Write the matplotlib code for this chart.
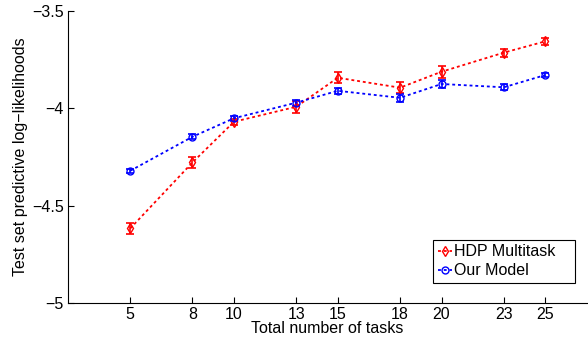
import matplotlib
matplotlib.use("Agg")
import matplotlib.pyplot as plt

# ---------------- data ----------------
tasks = [5, 8, 10, 13, 15, 18, 20, 23, 25]
hdp_mean = [-4.617, -4.278, -4.069, -3.992, -3.843, -3.894, -3.812, -3.714, -3.656]
hdp_err = [0.030, 0.028, 0.015, 0.030, 0.028, 0.028, 0.030, 0.020, 0.018]
ours_mean = [-4.321, -4.146, -4.051, -3.971, -3.910, -3.946, -3.875, -3.892, -3.829]
ours_err = [0.010, 0.012, 0.012, 0.015, 0.015, 0.020, 0.022, 0.015, 0.012]
ytick_vals = [-5, -4.5, -4, -3.5]
ytick_labels = ["\u22125", "\u22124.5", "\u22124", "\u22123.5"]

plt.rcParams['font.family'] = ['Liberation Sans', 'DejaVu Sans']
FS = 11.5

fig = plt.figure(figsize=(5.88, 3.38), dpi=100)
ax = fig.add_axes([0.1156, 0.1036, 0.8824, 0.8639])

dots = (0, (1.6, 1.6))
# error bars first, then the dotted lines with markers (these go in the legend)
ax.errorbar(tasks, hdp_mean, yerr=hdp_err, fmt="none", ecolor="red",
            capsize=3, elinewidth=1.2, capthick=1.2)
ax.errorbar(tasks, ours_mean, yerr=ours_err, fmt="none", ecolor="blue",
            capsize=3, elinewidth=1.2, capthick=1.2)
ax.plot(tasks, hdp_mean, color="red", linestyle=dots, linewidth=1.3,
        marker="d", markersize=5.5, markerfacecolor="none", markeredgewidth=1.0,
        label="HDP Multitask")
ax.plot(tasks, ours_mean, color="blue", linestyle=dots, linewidth=1.3,
        marker="o", markersize=5, markerfacecolor="none", markeredgewidth=1.0,
        label="Our Model")

ax.set_xlim(2, 27)
ax.set_ylim(-5, -3.5)
ax.set_xticks(tasks)
ax.set_yticks(ytick_vals)
ax.set_yticklabels(ytick_labels)
ax.tick_params(direction="in", length=4, width=0.8, labelsize=FS, pad=3)

for side in ["top", "right"]:
    ax.spines[side].set_visible(False)
for side in ["left", "bottom"]:
    ax.spines[side].set_linewidth(0.8)

ax.set_xlabel("Total number of tasks", fontsize=FS, labelpad=-0.5)
ax.set_ylabel("Test set predictive log\u2212likelihoods", fontsize=FS, labelpad=3)

# MATLAB-like legend box, wider than its text
leg = ax.legend(loc="lower left", bbox_to_anchor=(0.703, 0.068, 0.275, 0.164),
                mode="expand", fontsize=FS, handlelength=0.9, handletextpad=0.15,
                borderpad=0.3, labelspacing=0.25, fancybox=False, framealpha=1,
                borderaxespad=0)
leg.get_frame().set_edgecolor("black")
leg.get_frame().set_linewidth(0.8)

fig.savefig("out.png", dpi=100)
